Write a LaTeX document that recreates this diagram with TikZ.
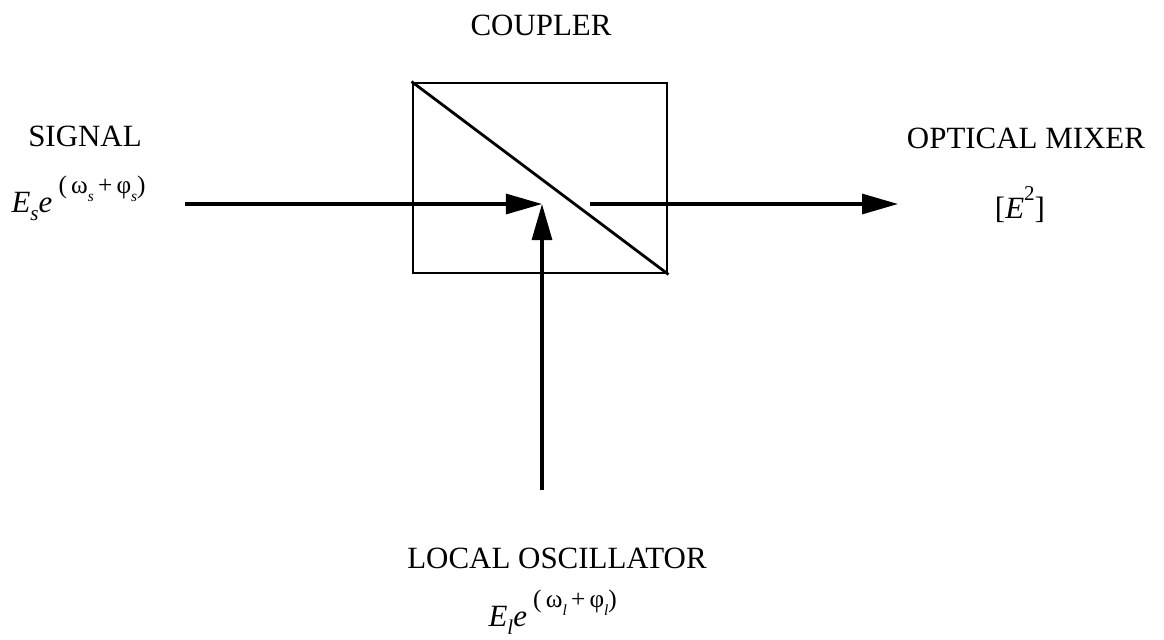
\documentclass[tikz,border=0pt]{standalone}
\usepackage{fontspec}
\setmainfont{Liberation Serif}
\usetikzlibrary{arrows.meta}
\newcommand{\fldexp}[1]{{\itshape E}\raisebox{-0.26em}{\fontsize{15}{15}\selectfont\itshape #1}{\itshape e}\hspace{0.2em}\raisebox{0.6em}{\fontsize{18}{18}\selectfont(\,ω\raisebox{-0.3em}{\fontsize{11}{11}\selectfont\itshape #1}\,+\,φ\raisebox{-0.3em}{\fontsize{11}{11}\selectfont\itshape #1})}}
\tikzset{
  lbl/.style={inner sep=0pt, anchor=base, font=\fontsize{22}{26}\selectfont},
  arr/.style={-{Triangle[length=0.9cm,width=0.5cm]}},
}
\begin{document}
\begin{tikzpicture}[x=0.025cm,y=-0.025cm,line width=2.2pt]
\useasboundingbox (0,0) rectangle (1164,639);
\node[draw, line width=2pt, inner sep=0pt, minimum width=6.35cm, minimum height=4.75cm] (box) at (540,178) {};
\draw[line width=2pt] (box.north west) -- (box.south east);
\coordinate (meet) at (542,204);
\coordinate (sigin) at (185,204);
\coordinate (lobot) at (542,490);
\coordinate (outstart) at (590,204);
\coordinate (outend) at (898,204);
\draw[arr] (sigin) -- (meet);
\draw[arr] (lobot) -- (meet);
\draw[arr] (outstart) -- (outend);
\node[lbl] (coupler) at (541,35) {COUPLER};
\node[lbl] (signal) at (85,146) {SIGNAL};
\node[lbl, anchor=base west] (sigf) at (10,212) {\fldexp{s}};
\node[lbl] (mixer) at (1026,148) {OPTICAL MIXER};
\node[lbl] (mixf) at (1020,218) {[{\itshape E}\raisebox{0.55em}{\fontsize{15}{15}\selectfont 2}]};
\node[lbl] (lo) at (557,568) {LOCAL OSCILLATOR};
\node[lbl, anchor=base west] (lof) at (487,626) {\fldexp{l}};
\end{tikzpicture}
\end{document}
